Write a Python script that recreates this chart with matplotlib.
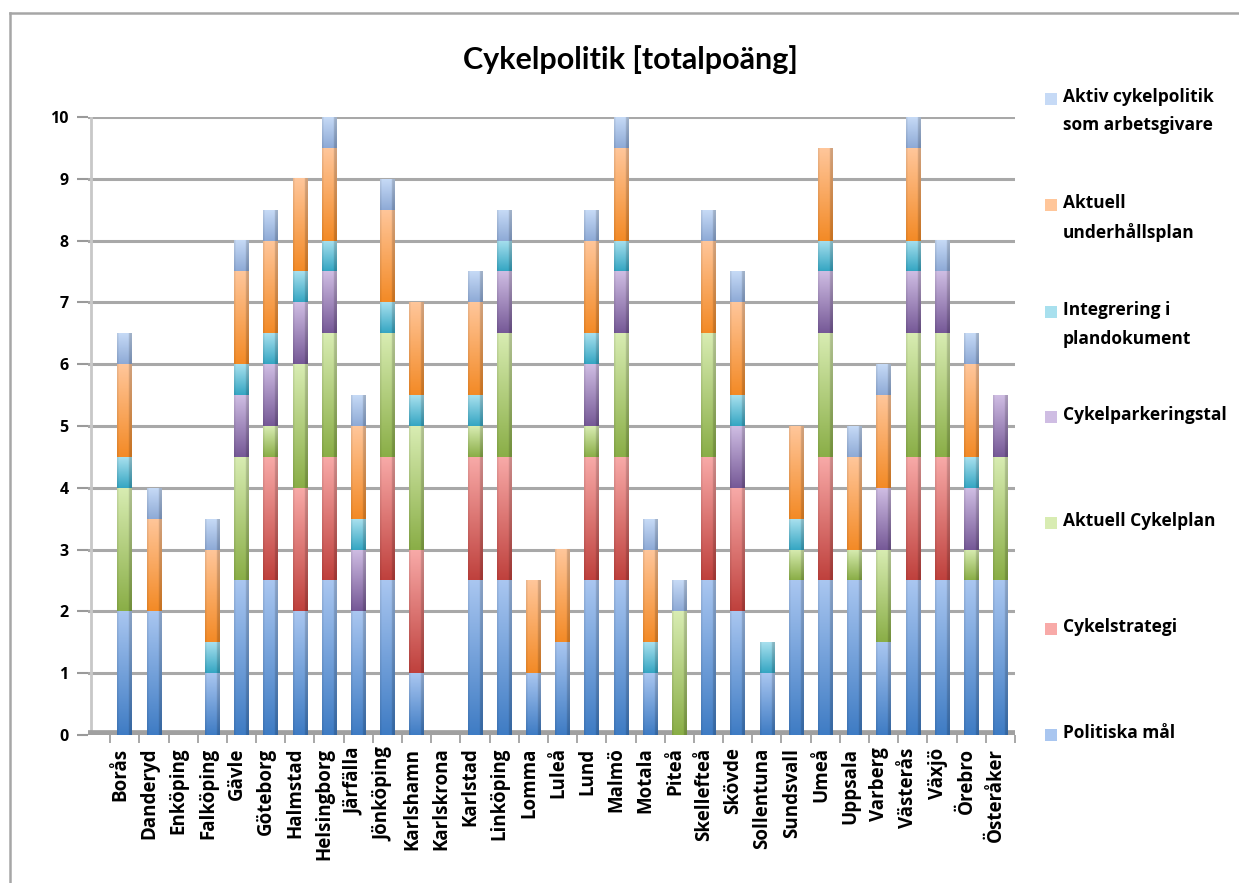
import numpy as np
import matplotlib.pyplot as plt
from matplotlib.patches import Rectangle
from matplotlib.lines import Line2D
from matplotlib.colors import to_rgb

cities = ["Borås", "Danderyd", "Enköping", "Falköping", "Gävle", "Göteborg",
          "Halmstad", "Helsingborg", "Järfälla", "Jönköping", "Karlshamn",
          "Karlskrona", "Karlstad", "Linköping", "Lomma", "Luleå", "Lund",
          "Malmö", "Motala", "Piteå", "Skellefteå", "Skövde", "Sollentuna",
          "Sundsvall", "Umeå", "Uppsala", "Varberg", "Västerås", "Växjö",
          "Örebro", "Österåker"]

politiska_mal = [2, 2, 0, 1, 2.5, 2.5, 2, 2.5, 2, 2.5, 1, 0, 2.5, 2.5, 1, 1.5,
                 2.5, 2.5, 1, 0, 2.5, 2, 1, 2.5, 2.5, 2.5, 1.5, 2.5, 2.5, 2.5, 2.5]
cykelstrategi = [0, 0, 0, 0, 0, 2, 2, 2, 0, 2, 2, 0, 2, 2, 0, 0,
                 2, 2, 0, 0, 2, 2, 0, 0, 2, 0, 0, 2, 2, 0, 0]
cykelplan = [2, 0, 0, 0, 2, 0.5, 2, 2, 0, 2, 2, 0, 0.5, 2, 0, 0,
             0.5, 2, 0, 2, 2, 0, 0, 0.5, 2, 0.5, 1.5, 2, 2, 0.5, 2]
parkeringstal = [0, 0, 0, 0, 1, 1, 1, 1, 1, 0, 0, 0, 0, 1, 0, 0,
                 1, 1, 0, 0, 0, 1, 0, 0, 1, 0, 1, 1, 1, 1, 1]
integrering = [0.5, 0, 0, 0.5, 0.5, 0.5, 0.5, 0.5, 0.5, 0.5, 0.5, 0, 0.5, 0.5, 0, 0,
               0.5, 0.5, 0.5, 0, 0, 0.5, 0.5, 0.5, 0.5, 0, 0, 0.5, 0, 0.5, 0]
underhallsplan = [1.5, 1.5, 0, 1.5, 1.5, 1.5, 1.5, 1.5, 1.5, 1.5, 1.5, 0, 1.5, 0, 1.5, 1.5,
                  1.5, 1.5, 1.5, 0, 1.5, 1.5, 0, 1.5, 1.5, 1.5, 1.5, 1.5, 0, 1.5, 0]
arbetsgivare = [0.5, 0.5, 0, 0.5, 0.5, 0.5, 0, 0.5, 0.5, 0.5, 0, 0, 0.5, 0.5, 0, 0,
                0.5, 0.5, 0.5, 0.5, 0.5, 0.5, 0, 0, 0, 0.5, 0.5, 0.5, 0.5, 0.5, 0]

series_names = ["Politiska mål", "Cykelstrategi", "Aktuell Cykelplan",
                "Cykelparkeringstal", "Integrering i\nplandokument",
                "Aktuell\nunderhållsplan", "Aktiv cykelpolitik\nsom arbetsgivare"]
series_values = [politiska_mal, cykelstrategi, cykelplan, parkeringstal,
                 integrering, underhallsplan, arbetsgivare]

# (light top, dark bottom) per series, Office 2007 palette
shades = [("#a9c6f0", "#3f7cc4"),
          ("#f8aaa8", "#bf413d"),
          ("#d8ecb2", "#8aae47"),
          ("#cfbde3", "#765997"),
          ("#a8e0ee", "#35a6c3"),
          ("#ffc69a", "#f38a26"),
          ("#c6daf6", "#8eaad6")]

W, H = 1239, 883
fig = plt.figure(figsize=(W / 100, H / 100), dpi=100)
fig.patch.set_facecolor("white")

# outer chart frame
fig.add_artist(Line2D([10 / W, 1], [1 - 13 / H, 1 - 13 / H], color="#a6a6a6", lw=1.8))
fig.add_artist(Line2D([10 / W, 10 / W], [0, 1 - 13 / H], color="#a6a6a6", lw=1.8))

ax = fig.add_axes([88 / W, (H - 735) / H, 927 / W, (735 - 117) / H])
x = np.arange(len(cities))

for y in range(1, 11):
    ax.axhline(y, color="#a8a8a8", lw=2.2, zorder=0)
ax.axvline(-1.15, ymin=0, ymax=1, color="#c8c8c8", lw=2, zorder=0)
ax.axhline(0, color="#a0a0a0", lw=7, zorder=1)


def shaded(light, dark, n=64):
    lt = np.array(to_rgb(light))
    dk = np.array(to_rgb(dark))
    t = np.linspace(0, 1, n)[:, None]
    col = lt[None, :] * (1 - t) + dk[None, :] * t
    img = np.repeat(col[:, None, :], 10, axis=1)
    # darker right side face
    img[:, 8:, :] *= 0.82
    img[:, :1, :] *= 0.92
    return np.clip(img, 0, 1)


bottom = np.zeros(len(cities))
for vals, (light, dark) in zip(series_values, shades):
    vals = np.array(vals, dtype=float)
    bars = ax.bar(x, vals, bottom=bottom, width=0.5, color=dark, lw=0, zorder=2)
    img = shaded(light, dark)
    for b in bars:
        h = b.get_height()
        if h <= 0:
            continue
        x0, y0, w = b.get_x(), b.get_y(), b.get_width()
        ax.imshow(img, extent=[x0, x0 + w, y0, y0 + h], aspect="auto",
                  interpolation="bilinear", zorder=3)
    bottom += vals

ax.set_xlim(-1.26, len(cities) - 0.63)
ax.set_ylim(0, 10)

for s in ax.spines.values():
    s.set_visible(False)

ax.set_yticks(range(0, 11))
ax.set_yticklabels([str(i) for i in range(0, 11)], fontsize=11.5,
                   fontweight="bold", family="Open Sans")
ax.tick_params(axis="y", length=8, color="#9a9a9a", width=1.5, pad=6)

ax.set_xticks(x - 0.15)
ax.set_xticklabels(cities, rotation=90, fontsize=13.5, fontweight="bold",
                   family="Open Sans", va="top", ha="center")
ax.set_xticks(np.arange(len(cities) + 1) - 0.5, minor=True)
ax.tick_params(axis="x", which="major", length=0, pad=9)
ax.tick_params(axis="x", which="minor", length=6, color="#9a9a9a", width=1.2)

fig.text(630 / W, 1 - 60 / H, "Cykelpolitik [totalpoäng]", ha="center",
         va="center", fontsize=22, fontweight="bold", family="Lato")

# legend column on the right, top entry first
legend_top = [88, 194, 301, 406, 512, 618, 724]
for name, (light, dark), ytop in zip(series_names[::-1], shades[::-1], legend_top):
    fig.add_artist(Rectangle((1045 / W, 1 - (ytop + 17) / H), 12 / W, 12 / H,
                             transform=fig.transFigure, facecolor=light,
                             edgecolor="none"))
    fig.text(1063 / W, 1 - ytop / H, name, ha="left", va="top", fontsize=12.5,
             fontweight="bold", family="Open Sans", linespacing=1.75)

fig.savefig("out.png", dpi=100)
